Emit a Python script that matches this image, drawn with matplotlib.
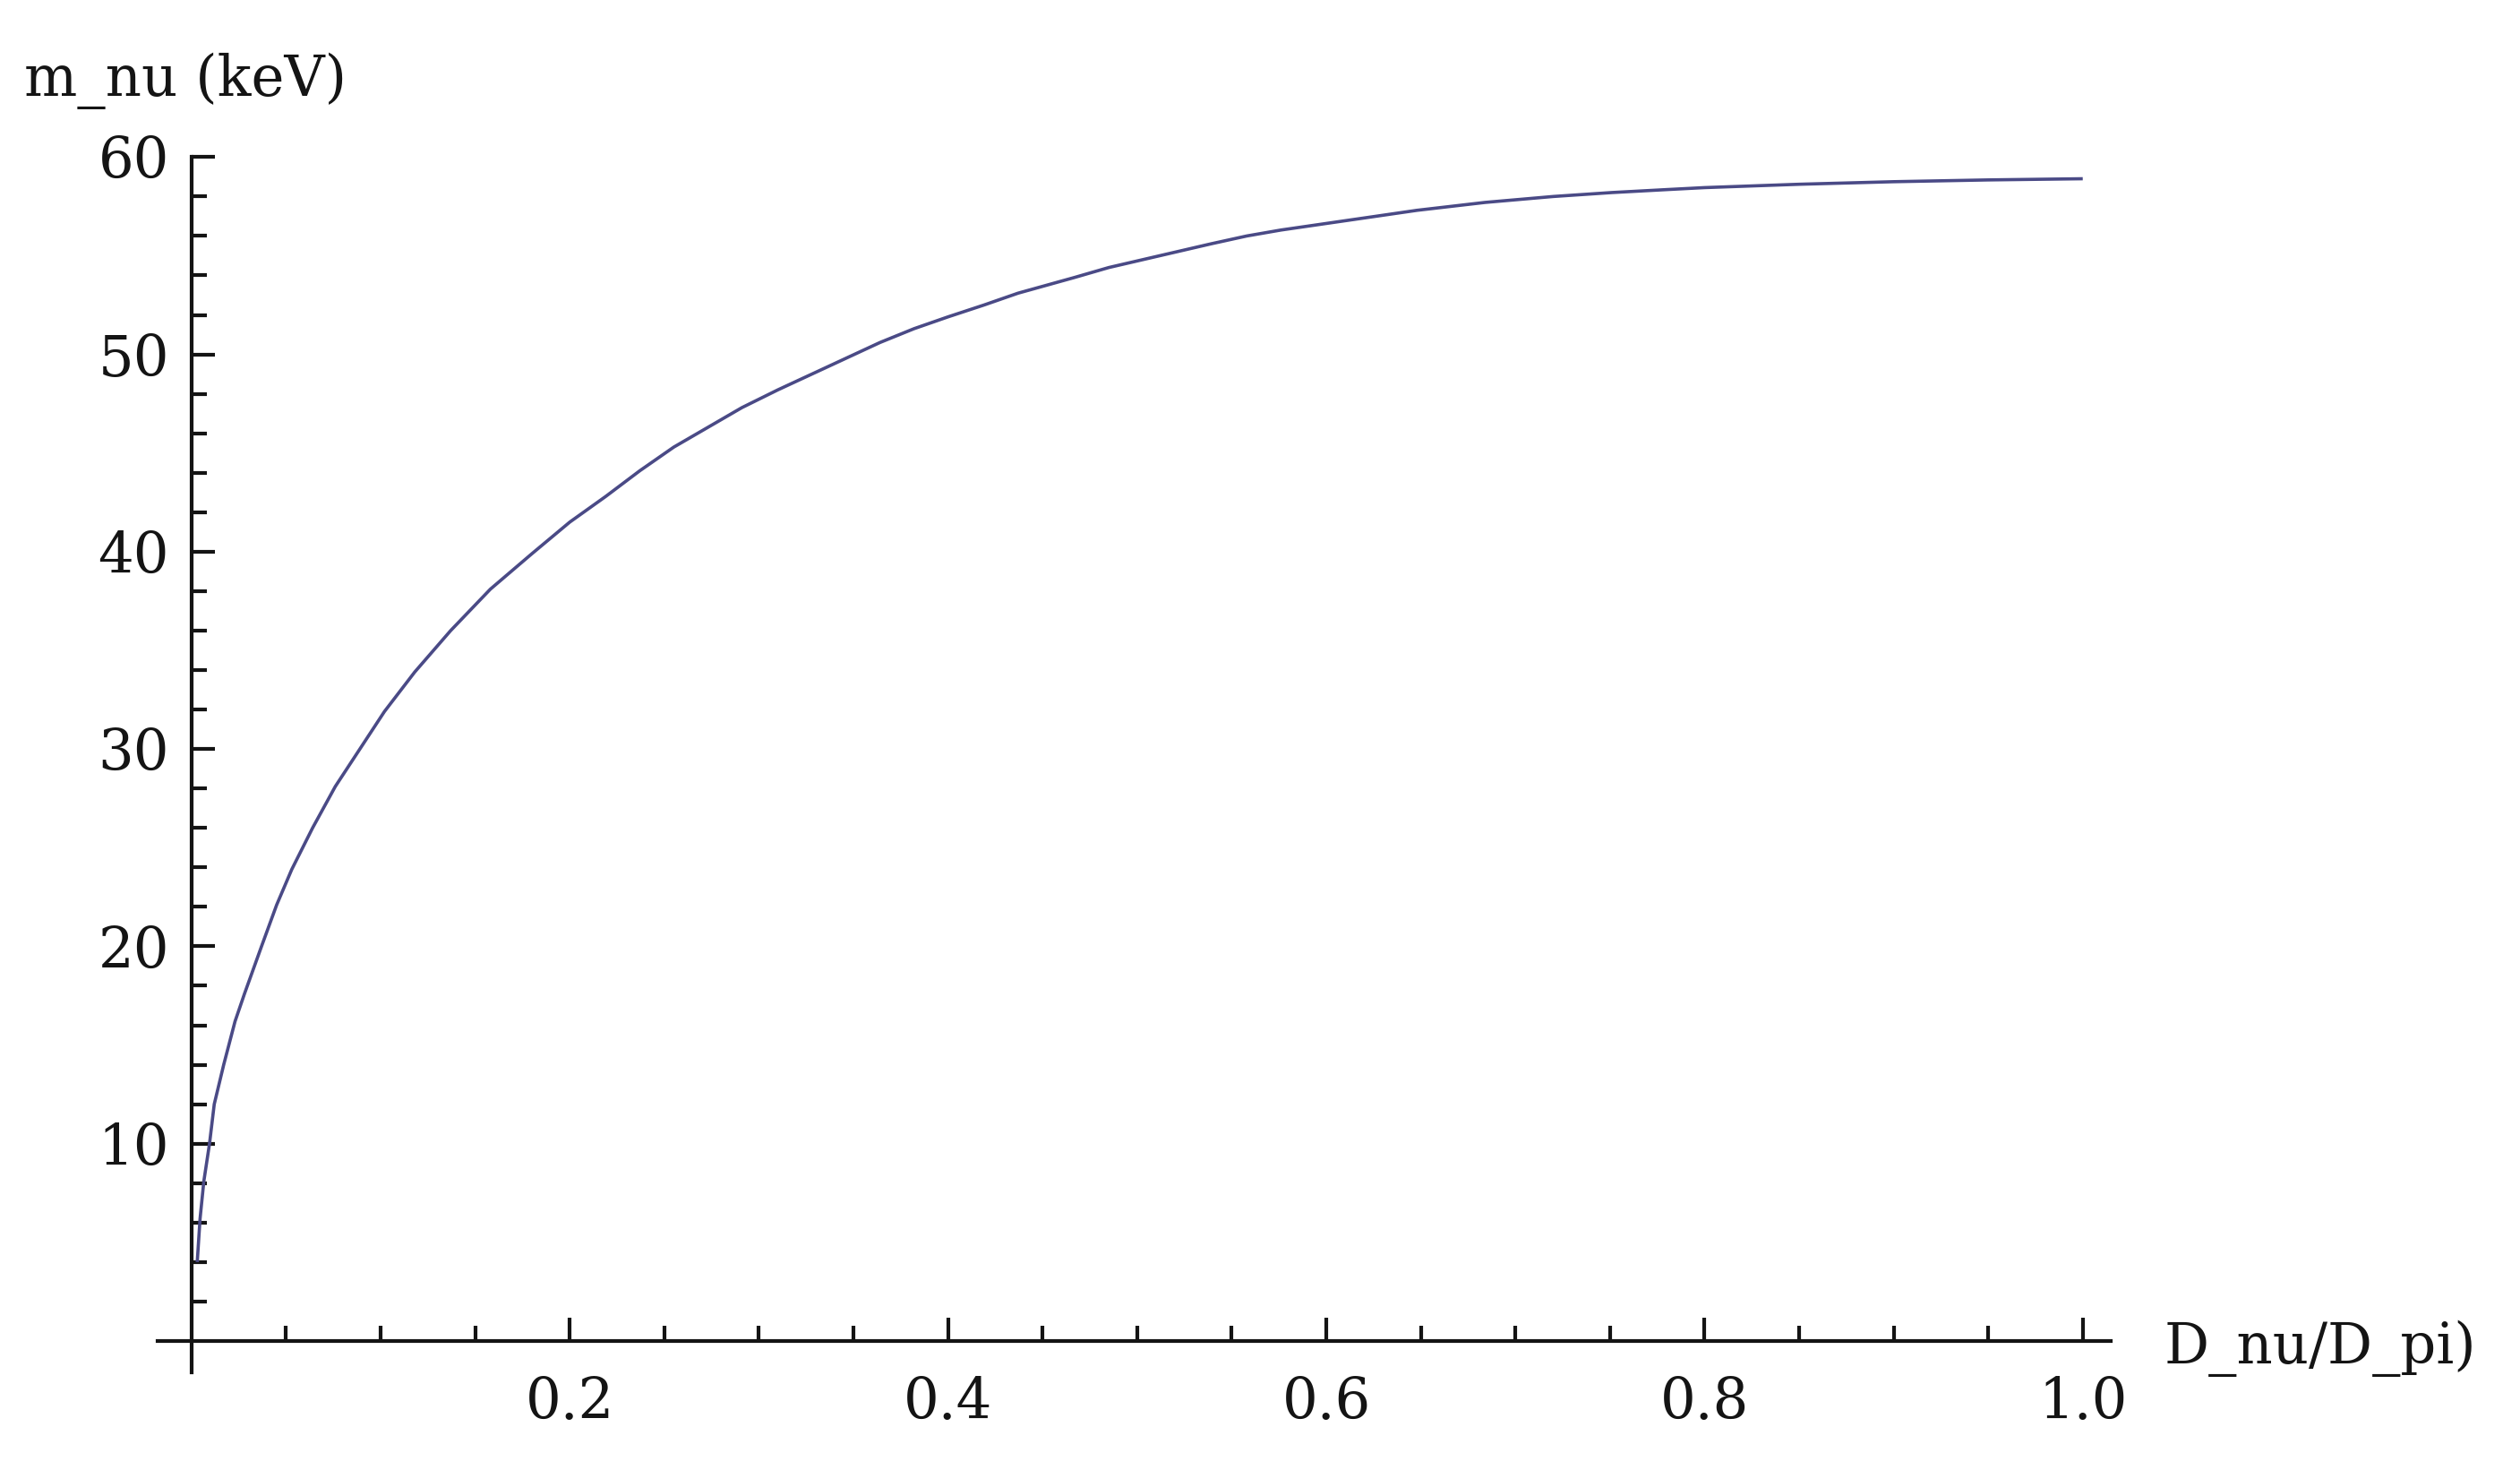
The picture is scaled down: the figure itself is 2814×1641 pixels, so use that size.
import numpy as np
import matplotlib
matplotlib.use("Agg")
import matplotlib.pyplot as plt
from matplotlib.ticker import FixedLocator

# values
d_ratio = [0.003, 0.0045, 0.0065, 0.0095, 0.012, 0.017, 0.023, 0.028,
           0.037, 0.045, 0.053, 0.064, 0.076, 0.089, 0.102, 0.118, 0.137,
           0.158, 0.180, 0.200, 0.219, 0.237, 0.255, 0.273, 0.291, 0.310,
           0.328, 0.346, 0.364, 0.382, 0.400, 0.419, 0.437, 0.452, 0.467,
           0.485, 0.503, 0.521, 0.539, 0.558, 0.576, 0.594, 0.612, 0.630,
           0.648, 0.666, 0.684, 0.702, 0.720, 0.751, 0.78, 0.80, 0.85,
           0.90, 0.95, 1.0]
m_nu = [4.0, 6.2, 8.1, 10.0, 12.0, 14.0, 16.2, 17.6,
        20.0, 22.1, 23.9, 26.0, 28.1, 30.0, 31.9, 33.9, 36.0,
        38.1, 39.9, 41.5, 42.8, 44.1, 45.3, 46.3, 47.3, 48.2,
        49.0, 49.8, 50.6, 51.3, 51.9, 52.5, 53.1, 53.5, 53.9,
        54.4, 54.8, 55.2, 55.6, 56.0, 56.3, 56.55, 56.8, 57.05,
        57.3, 57.5, 57.7, 57.85, 58.0, 58.2, 58.35, 58.45, 58.62,
        58.75, 58.84, 58.9]

x_major = [0.2, 0.4, 0.6, 0.8, 1.0]
x_labels = ["0.2", "0.4", "0.6", "0.8", "1.0"]
y_major = [10, 20, 30, 40, 50, 60]
y_labels = ["10", "20", "30", "40", "50", "60"]

font = "DejaVu Serif"
fs = 45
ink = "#141414"

fig = plt.figure(figsize=(28.14, 16.41), dpi=100)
ax = fig.add_axes([0.0535, 0.0475, 0.7955, 0.8591])
ax.set_xlim(-0.03, 1.03)
ax.set_ylim(-3, 61)

ax.plot(d_ratio, m_nu, color="#4a4a86", linewidth=2.6, solid_capstyle="butt")

for side in ["top", "right"]:
    ax.spines[side].set_visible(False)
ax.spines["left"].set_position(("data", 0))
ax.spines["bottom"].set_position(("data", 0))
ax.spines["left"].set_bounds(-1.6, 60)
ax.spines["bottom"].set_bounds(-0.018, 1.015)
for side in ["left", "bottom"]:
    ax.spines[side].set_linewidth(3.0)
    ax.spines[side].set_color(ink)

ax.xaxis.set_major_locator(FixedLocator(x_major))
ax.xaxis.set_minor_locator(FixedLocator(np.arange(0.05, 1.0, 0.05)))
ax.yaxis.set_major_locator(FixedLocator(y_major))
ax.yaxis.set_minor_locator(FixedLocator(np.arange(2, 60, 2)))
ax.set_xticklabels(x_labels, fontfamily=font, fontsize=fs, color=ink)
ax.set_yticklabels(y_labels, fontfamily=font, fontsize=fs, color=ink)

ax.tick_params(axis="x", which="major", direction="in", length=19, width=3.0, pad=28, color=ink)
ax.tick_params(axis="x", which="minor", direction="in", length=12, width=3.0, color=ink)
ax.tick_params(axis="y", which="major", direction="in", length=19, width=3.0, pad=18, color=ink)
ax.tick_params(axis="y", which="minor", direction="in", length=12, width=3.0, color=ink)

fig.text(27 / 2814, 1 - 90 / 1641, "m_nu (keV)", fontfamily=font, fontsize=fs,
         ha="left", va="center", color=ink)
fig.text(2417 / 2814, 1 - 1505 / 1641, "D_nu/D_pi)", fontfamily=font, fontsize=fs,
         ha="left", va="center", color=ink)

fig.savefig("out.png", dpi=100, facecolor="white")
